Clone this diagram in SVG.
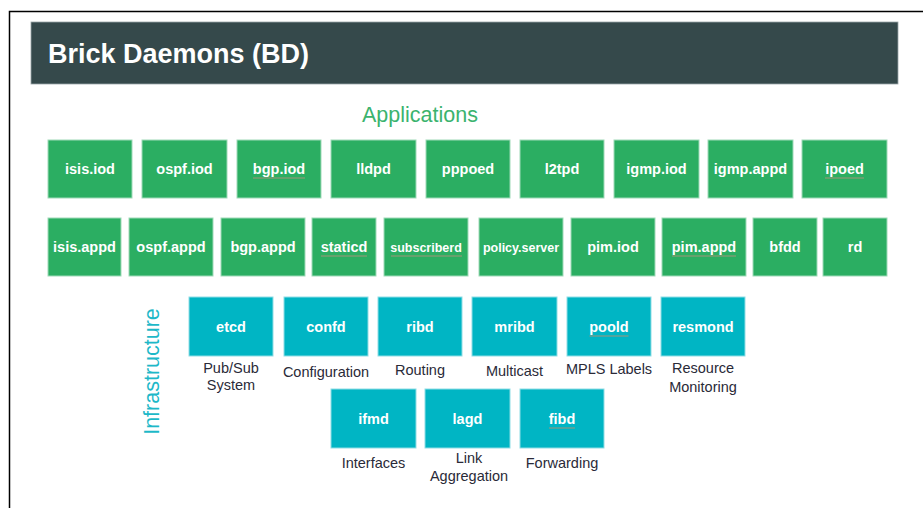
<svg xmlns="http://www.w3.org/2000/svg" width="923" height="508" viewBox="0 0 923 508">
<style>
.app rect{fill:#2bae62;stroke:#9fdab8;stroke-width:1}
.inf rect{fill:#00b5c4;stroke:#8fdde5;stroke-width:1}
.bt{font-family:"Liberation Sans",Arial,sans-serif;font-weight:bold;font-size:14.5px;fill:#fff;text-anchor:middle}
.sm{font-size:12.5px}
.lb{font-family:"Liberation Sans",Arial,sans-serif;font-size:14.5px;fill:#2a2a38;text-anchor:middle}
.ul{stroke:#a39478;stroke-width:1}
</style>
<rect width="923" height="508" fill="#fff"/>
<path d="M9.5,508 V11.5 H923" fill="none" stroke="#000" stroke-width="1.5"/>
<g id="header">
<rect x="31" y="22" width="867" height="62" fill="#35494b" stroke="#9aa6a7" stroke-width="0.8"/>
<text x="48" y="63" font-family="Liberation Sans,Arial,sans-serif" font-weight="bold" font-size="27" fill="#fff">Brick Daemons (BD)</text>
</g>
<text x="420" y="122" font-family="Liberation Sans,Arial,sans-serif" font-size="21.5" fill="#3bb36e" text-anchor="middle">Applications</text>
<text transform="translate(159,371.5) rotate(-90)" font-family="Liberation Sans,Arial,sans-serif" font-size="21.5" fill="#1db8c8" text-anchor="middle">Infrastructure</text>

<g id="isis_iod" class="app"><rect x="48" y="140" width="84" height="58"/><text class="bt" x="90" y="174">isis.iod</text></g>
<g id="ospf_iod" class="app"><rect x="142" y="140" width="85" height="58"/><text class="bt" x="184.5" y="174">ospf.iod</text></g>
<g id="bgp_iod" class="app"><rect x="237" y="140" width="84" height="58"/><text class="bt" x="279" y="174">bgp.iod</text><line class="ul" x1="253" y1="178" x2="305" y2="178"/></g>
<g id="lldpd" class="app"><rect x="331" y="140" width="85" height="58"/><text class="bt" x="373.5" y="174">lldpd</text></g>
<g id="pppoed" class="app"><rect x="426" y="140" width="84" height="58"/><text class="bt" x="468" y="174">pppoed</text></g>
<g id="l2tpd" class="app"><rect x="520" y="140" width="84" height="58"/><text class="bt" x="562" y="174">l2tpd</text></g>
<g id="igmp_iod" class="app"><rect x="614" y="140" width="85" height="58"/><text class="bt" x="656.5" y="174">igmp.iod</text></g>
<g id="igmp_appd" class="app"><rect x="708" y="140" width="85" height="58"/><text class="bt" x="750.5" y="174">igmp.appd</text></g>
<g id="ipoed" class="app"><rect x="802" y="140" width="85" height="58"/><text class="bt" x="844.5" y="174">ipoed</text><line class="ul" x1="825" y1="178" x2="864" y2="178"/></g>

<g id="isis_appd" class="app"><rect x="48" y="218" width="73" height="58"/><text class="bt" x="84.5" y="252">isis.appd</text></g>
<g id="ospf_appd" class="app"><rect x="129" y="218" width="84" height="58"/><text class="bt" x="171" y="252">ospf.appd</text></g>
<g id="bgp_appd" class="app"><rect x="221" y="218" width="84" height="58"/><text class="bt" x="263" y="252">bgp.appd</text></g>
<g id="staticd" class="app"><rect x="312" y="218" width="64" height="58"/><text class="bt" x="344" y="252">staticd</text><line class="ul" x1="321" y1="256" x2="367" y2="256"/></g>
<g id="subscriberd" class="app"><rect x="384" y="218" width="84" height="58"/><text class="bt sm" x="426" y="252">subscriberd</text><line class="ul" x1="391" y1="256" x2="462" y2="256"/></g>
<g id="policy_server" class="app"><rect x="479" y="218" width="84" height="58"/><text class="bt sm" x="521" y="252">policy.server</text></g>
<g id="pim_iod" class="app"><rect x="571" y="218" width="84" height="58"/><text class="bt" x="613" y="252">pim.iod</text></g>
<g id="pim_appd" class="app"><rect x="662" y="218" width="84" height="58"/><text class="bt" x="704" y="252">pim.appd</text><line class="ul" x1="672" y1="256" x2="736" y2="256"/></g>
<g id="bfdd" class="app"><rect x="753" y="218" width="64" height="58"/><text class="bt" x="785" y="252">bfdd</text></g>
<g id="rd" class="app"><rect x="823" y="218" width="64" height="58"/><text class="bt" x="855" y="252">rd</text></g>

<g id="etcd" class="inf"><rect x="189" y="297" width="84" height="59"/><text class="bt" x="231" y="332">etcd</text><text class="lb" x="231" y="373">Pub/Sub</text><text class="lb" x="231" y="390">System</text></g>
<g id="confd" class="inf"><rect x="284" y="297" width="84" height="59"/><text class="bt" x="326" y="332">confd</text><text class="lb" x="326" y="377">Configuration</text></g>
<g id="ribd" class="inf"><rect x="378" y="297" width="84" height="59"/><text class="bt" x="420" y="332">ribd</text><text class="lb" x="420" y="375">Routing</text></g>
<g id="mribd" class="inf"><rect x="472" y="297" width="85" height="59"/><text class="bt" x="514.5" y="332">mribd</text><text class="lb" x="514.5" y="376">Multicast</text></g>
<g id="poold" class="inf"><rect x="567" y="297" width="84" height="59"/><text class="bt" x="609" y="332">poold</text><line class="ul" x1="589.5" y1="336" x2="628.5" y2="336"/><text class="lb" x="609" y="374">MPLS Labels</text></g>
<g id="resmond" class="inf"><rect x="661" y="297" width="84" height="59"/><text class="bt" x="703" y="332">resmond</text><text class="lb" x="703" y="373">Resource</text><text class="lb" x="703" y="392">Monitoring</text></g>

<g id="ifmd" class="inf"><rect x="331" y="389" width="85" height="59"/><text class="bt" x="373.5" y="424">ifmd</text><text class="lb" x="373.5" y="468">Interfaces</text></g>
<g id="lagd" class="inf"><rect x="425" y="389" width="85" height="59"/><text class="bt" x="467.5" y="424">lagd</text><text class="lb" x="469" y="463">Link</text><text class="lb" x="469" y="481">Aggregation</text></g>
<g id="fibd" class="inf"><rect x="520" y="389" width="84" height="59"/><text class="bt" x="562" y="424">fibd</text><line class="ul" x1="549" y1="428" x2="575" y2="428"/><text class="lb" x="562" y="468">Forwarding</text></g>
<g id="connectors"></g>
</svg>
